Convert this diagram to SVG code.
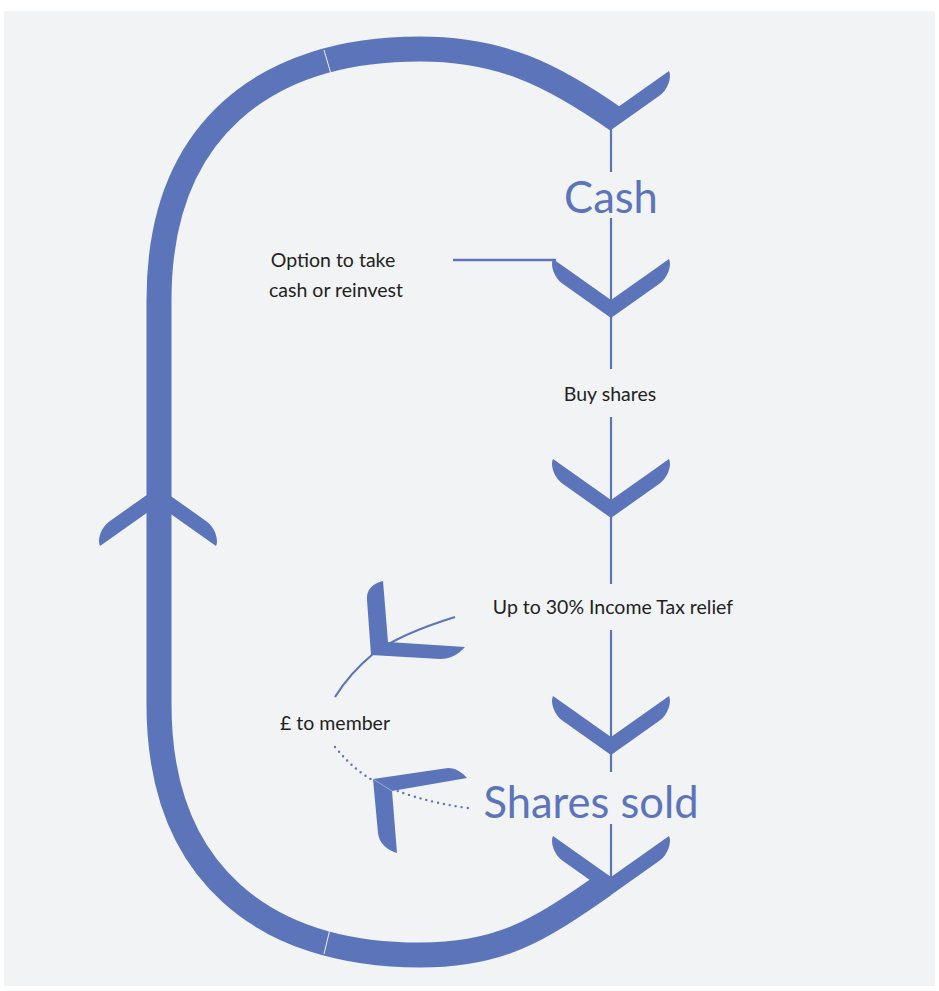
<svg xmlns="http://www.w3.org/2000/svg" xmlns:xlink="http://www.w3.org/1999/xlink" width="939" height="991" viewBox="0 0 939 991">
<style>
.blue{fill:#5c74b9}
.band{fill:none;stroke:#5c74b9;stroke-width:25}
.thin{fill:none;stroke:#5c74b9;stroke-width:2.2}
.dots{fill:none;stroke:#5c74b9;stroke-width:2.4;stroke-linecap:round;stroke-dasharray:0 6}
.seam{stroke:#eef0f5;stroke-width:1}
.lbl{font-family:Lato,"Liberation Sans",sans-serif;font-size:19.5px;fill:#231f20}
.big{font-family:Lato,"Liberation Sans",sans-serif;font-size:43.5px;fill:#5c74b9}
</style>
<defs>
<path id="chev" d="M0,0 L-48,-34 C-57,-40 -61,-53 -58,-59 L0,-18 L58,-59 C61,-53 57,-40 48,-34 Z"/>
</defs>
<rect x="4" y="11" width="931" height="975" fill="#f1f3f5"/>
<g id="connectors">
<path class="band" d="M617,120 C551.5,74 500,49 420,49 C265,49 159,130 159,300 L159,704 C159,874 265,955 420,955 C500,955 538,931 604,885"/>
<line class="seam" x1="324" y1="50" x2="331" y2="74"/>
<line class="seam" x1="330" y1="929" x2="324" y2="954"/>
<g class="thin">
<line x1="611" y1="128" x2="611" y2="172"/>
<line x1="611" y1="218" x2="611" y2="369"/>
<line x1="611" y1="417" x2="611" y2="584"/>
<line x1="611" y1="630" x2="611" y2="772"/>
<line x1="611" y1="824" x2="611" y2="880"/>
<line x1="453" y1="260" x2="556" y2="260" stroke-width="2.5"/>
<path d="M455,617 Q400,634 373,654 Q350,673 335,697"/>
</g>
<path class="dots" d="M335,747 C350,765 362,775 378,783 C400,793 430,803 468,808"/>
</g>
<g id="arrow-top" class="blue"><path d="M611,130 L611,112 L669,71 C672,77 668,90 659,96 Z"/></g>
<g id="arrow-2" class="blue"><use xlink:href="#chev" transform="translate(611,318)"/></g>
<g id="arrow-3" class="blue"><use xlink:href="#chev" transform="translate(611,518)"/></g>
<g id="arrow-4" class="blue"><use xlink:href="#chev" transform="translate(611,755)"/></g>
<g id="arrow-bottom" class="blue"><use xlink:href="#chev" transform="translate(611,895)"/></g>
<g id="arrow-left" class="blue"><use xlink:href="#chev" transform="translate(158,487) scale(1,-1)"/></g>
<g id="relief-shape" class="blue"><path d="M371,655 L367,600 C366,590 373,583 383,581 L388,642 L465,647 C458,655 450,659 440,659 Z"/></g>
<g id="member-shape" class="blue">
<path d="M373,779 L448,768 C456,768 463,773 467,778 L392,791 L397,853 C387,850 379,843 378,833 Z"/>
<line x1="373" y1="779" x2="392" y2="791" stroke="#aab6dc" stroke-width="0.8"/>
</g>
<g id="cash"><text class="big" x="611" y="213" text-anchor="middle">Cash</text></g>
<g id="option"><text class="lbl" x="333" y="267" text-anchor="middle">Option to take</text><text class="lbl" x="336" y="297" text-anchor="middle">cash or reinvest</text></g>
<g id="buy"><text class="lbl" x="610" y="401" text-anchor="middle">Buy shares</text></g>
<g id="relief"><text class="lbl" x="613" y="614" text-anchor="middle">Up to 30% Income Tax relief</text></g>
<g id="member"><text class="lbl" x="335" y="730" text-anchor="middle">£ to member</text></g>
<g id="sold"><text class="big" x="591" y="818" text-anchor="middle">Shares sold</text></g>
</svg>
